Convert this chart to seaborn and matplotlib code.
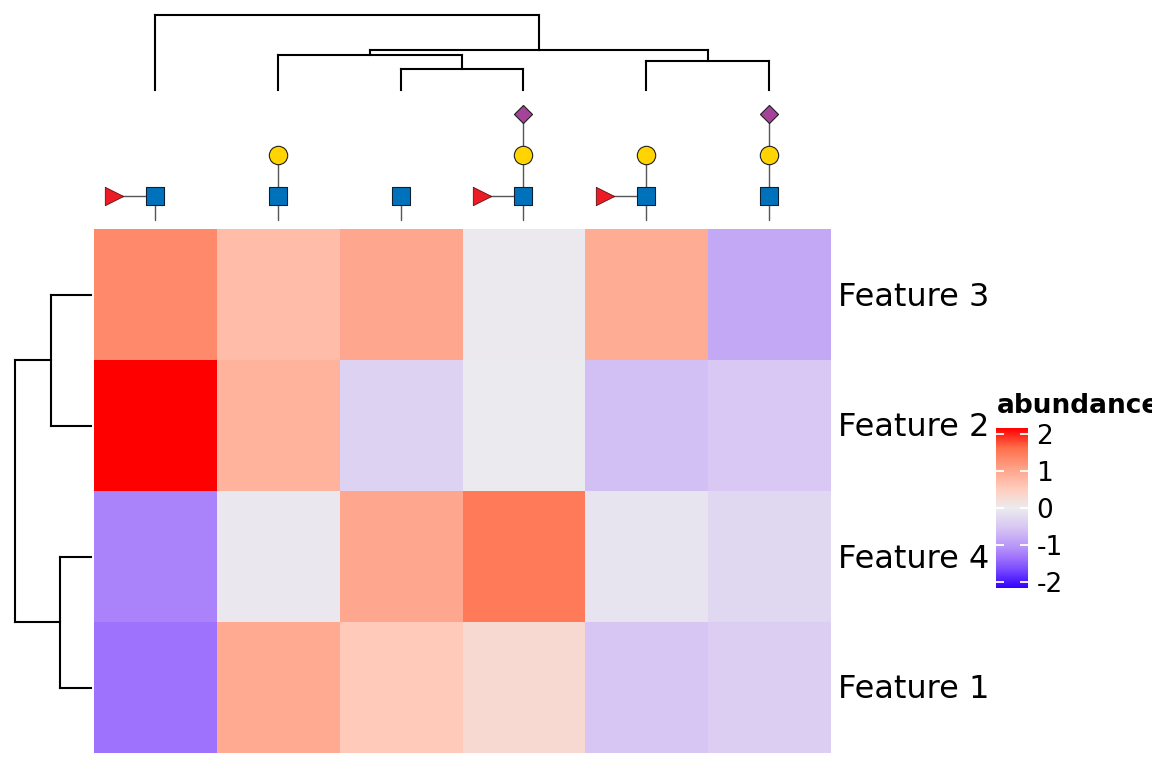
import numpy as np
import pandas as pd
import matplotlib
matplotlib.use("Agg")
import matplotlib.pyplot as plt
from matplotlib.colors import LinearSegmentedColormap
from matplotlib.transforms import ScaledTranslation
import seaborn as sns

W, H = 1152, 768

features = ["Feature 3", "Feature 2", "Feature 4", "Feature 1"]
samples = ["s1", "s2", "s3", "s4", "s5", "s6"]
row_f3 = [1.33, 0.72, 1.00, -0.03, 0.93, -0.85]
row_f2 = [2.16, 0.85, -0.36, -0.02, -0.60, -0.50]
row_f4 = [-1.20, -0.05, 1.00, 1.50, -0.10, -0.28]
row_f1 = [-1.35, 0.97, 0.55, 0.30, -0.52, -0.42]

color_limit = 2.16
color_stops = ["#3300FF", "#7E50FF", "#9E72FD", "#B592F9", "#D6C5F3", "#ECEBEE",
               "#FFCBBB", "#FFA186", "#FF6F4C", "#FF0000"]
stop_pos = [0, 0.125, 0.1875, 0.25, 0.375, 0.5, 0.625, 0.75, 0.875, 1]
cbar_ticks = [-2, -1, 0, 1, 2]

# dendrograms: (left child, right child, height), negative child = earlier merge
col_merges = [(2, 3, 21), (1, -1, 35), (4, 5, 29), (-2, -3, 40), (0, -4, 75)]
row_merges = [(0, 1, 40), (2, 3, 31), (-1, -2, 76)]

# glycan per column: residues stacked on the core, "fuc" hangs to the left
core_fuc = [True, False, False, True, True, False]
has_gal = [False, True, False, True, True, True]
has_sia = [False, False, False, True, False, True]

GLCNAC, GAL, FUC, SIA = "#0072BC", "#FFD400", "#ED1C24", "#A54399"


def px_axes(fig, x0, y0, x1, y1):
    return fig.add_axes([x0 / W, 1 - y1 / H, (x1 - x0) / W, (y1 - y0) / H])


def dendro_segments(merges, n):
    # returns link segments as (pos a, height a, pos b, height b)
    nodes = []
    segs = []
    for a, b, h in merges:
        pa, ha = (a, 0) if a >= 0 else nodes[-a - 1]
        pb, hb = (b, 0) if b >= 0 else nodes[-b - 1]
        segs.append((pa, ha, pa, h))
        segs.append((pa, h, pb, h))
        segs.append((pb, h, pb, hb))
        nodes.append(((pa + pb) / 2, h))
    return segs


sns.set_theme(style="white")
plt.rcParams["axes.unicode_minus"] = False
fig = plt.figure(figsize=(W / 100, H / 100), dpi=100)

cmap = LinearSegmentedColormap.from_list("abund", list(zip(stop_pos, color_stops)), N=512)
df = pd.DataFrame([row_f3, row_f2, row_f4, row_f1], index=features, columns=samples)

ax = px_axes(fig, 94, 229, 831, 753)
cax = px_axes(fig, 996, 428, 1028, 588)
sns.heatmap(df, ax=ax, cmap=cmap, vmin=-color_limit, vmax=color_limit, cbar_ax=cax,
            xticklabels=False, yticklabels=True, linewidths=0)
ax.yaxis.tick_right()
ax.tick_params(axis="y", length=0, pad=5, labelsize=23, labelrotation=0, labelcolor="black")
for lab in ax.get_yticklabels():
    lab.set_transform(lab.get_transform() + ScaledTranslation(0, 1 / 100, fig.dpi_scale_trans))

cbar = ax.collections[0].colorbar
cbar.outline.set_visible(False)
cbar.set_ticks(cbar_ticks)
cax.set_axisbelow(False)
cax.tick_params(axis="y", left=True, right=True, direction="in", length=5.8, width=1.3,
                color="white", labelsize=19, labelcolor="black", pad=6)
# the title runs off the right edge in the reference as well
fig.text(997 / W, 1 - 413 / H, "abundance", fontsize=19, fontweight="bold",
         color="black", ha="left", va="baseline")

# column dendrogram
top = px_axes(fig, 93.5, 0, 830.5, 90)
top.set_xlim(-0.5, 5.5)
top.set_ylim(0, 90)
top.axis("off")
for x0, y0, x1, y1 in dendro_segments(col_merges, 6):
    top.plot([x0, x1], [y0, y1], color="black", lw=1.5, solid_capstyle="projecting", clip_on=False)

# row dendrogram
left = px_axes(fig, 0, 229, 90.5, 753)
left.set_xlim(90.5, 0)
left.set_ylim(3.5, -0.5)
left.axis("off")
for y0, x0, y1, x1 in dendro_segments(row_merges, 4):
    left.plot([x0, x1], [y0, y1], color="black", lw=1.5, solid_capstyle="projecting", clip_on=False)

# glycan cartoons, one level is 41 px, same in both directions
gly = px_axes(fig, 93.5, 89.3, 830.5, 228.3)
col_w = 737 / 6
gly.set_xlim(-0.5, 5.5)
gly.set_ylim(-32 / 41, 107 / 41)
gly.axis("off")
fuc_dx = 41 / col_w
for i in range(6):
    gly.plot([i, i], [-24 / 41, 0], color="#555555", lw=1, zorder=1)
    if core_fuc[i]:
        gly.plot([i - fuc_dx, i], [0, 0], color="#555555", lw=1, zorder=1)
        gly.scatter([i - fuc_dx], [0], marker=">", s=175, color=FUC, edgecolor="#5a1015", linewidth=0.6, zorder=2)
    gly.scatter([i], [0], marker="s", s=165, color=GLCNAC, edgecolor="#102030", linewidth=0.8, zorder=2)
    if has_gal[i]:
        gly.plot([i, i], [0, 1], color="#555555", lw=1, zorder=1)
        gly.scatter([i], [1], marker="o", s=175, color=GAL, edgecolor="#202020", linewidth=0.8, zorder=2)
    if has_sia[i]:
        gly.plot([i, i], [1, 2], color="#555555", lw=1, zorder=1)
        gly.scatter([i], [2], marker="D", s=85, color=SIA, edgecolor="#202020", linewidth=0.8, zorder=2)

fig.savefig("out.png", dpi=100)
